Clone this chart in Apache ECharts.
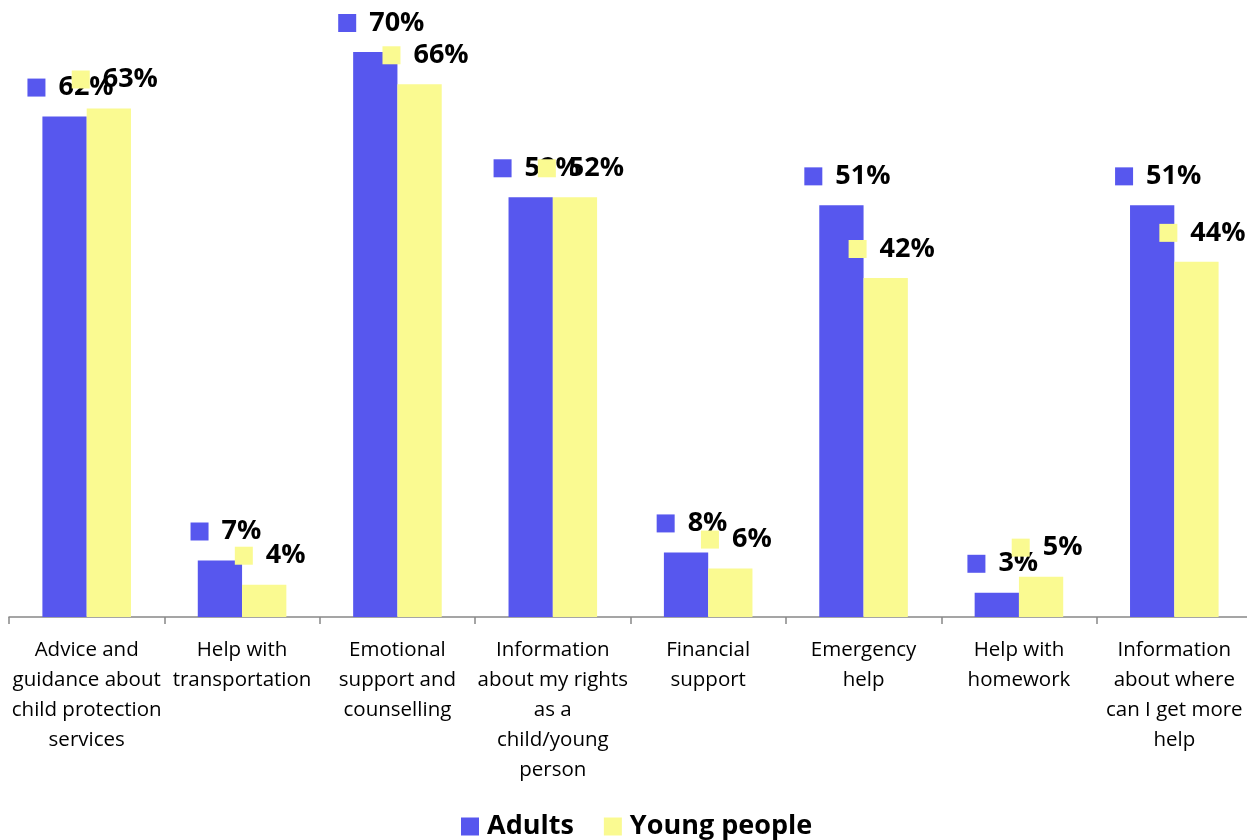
<!DOCTYPE html>
<html><head><meta charset="utf-8">
<script src="https://cdn.jsdelivr.net/npm/echarts@6/dist/echarts.min.js"></script>
<style>html,body{margin:0;padding:0;background:#fff;overflow:hidden}#c{width:1252px;height:840px}</style>
</head><body><div id="c"></div>
<script>
const categories = [
  "Advice and\nguidance about\nchild protection\nservices",
  "Help with\ntransportation",
  "Emotional\nsupport and\ncounselling",
  "Information\nabout my rights\nas a\nchild/young\nperson",
  "Financial\nsupport",
  "Emergency\nhelp",
  "Help with\nhomework",
  "Information\nabout where\ncan I get more\nhelp"
];
const adults = [62, 7, 70, 52, 8, 51, 3, 51];
const youngPeople = [63, 4, 66, 52, 6, 42, 5, 44];
const seriesNames = ["Adults", "Young people"];
const colors = ["#5757EE", "#FAFA91"];
const FONT = "'Open Sans', sans-serif";

function mkLabel(color) {
  return {
    show: true, position: 'top', distance: 14, offset: [6, 0],
    formatter: p => '{sq|}{gap|}{v|' + p.value + '%}',
    rich: {
      sq: { width: 18, height: 18, backgroundColor: color },
      gap: { width: 13 },
      v: { fontFamily: FONT, fontWeight: 'bold', fontSize: 27, color: '#000', lineHeight: 30 }
    }
  };
}

const chart = echarts.init(document.getElementById('c'));
chart.setOption({
  animation: false,
  backgroundColor: '#fff',
  grid: { left: 9, right: 0, top: 52, bottom: 223 },
  legend: {
    top: 813, left: 461, padding: 0,
    itemWidth: 18, itemHeight: 18, itemGap: 30,
    icon: 'rect',
    textStyle: { fontFamily: FONT, fontWeight: 'bold', fontSize: 27, color: '#000', padding: [0, 0, 0, 3] },
    data: seriesNames
  },
  xAxis: {
    type: 'category', data: categories,
    axisLine: { lineStyle: { color: '#888', width: 1.5 } },
    axisTick: { show: true, length: 7, lineStyle: { color: '#888', width: 1.5 } },
    axisLabel: { interval: 0, margin: 18, fontFamily: FONT, fontSize: 20.5, lineHeight: 30, color: '#000' }
  },
  yAxis: { type: 'value', min: 0, max: 70, show: false, splitLine: { show: false } },
  series: [
    { name: seriesNames[0], type: 'bar', data: adults, itemStyle: { color: colors[0] },
      barGap: '0%', barCategoryGap: '43%', label: mkLabel(colors[0]) },
    { name: seriesNames[1], type: 'bar', data: youngPeople, itemStyle: { color: colors[1] },
      barGap: '0%', barCategoryGap: '43%', label: mkLabel(colors[1]) }
  ]
});
</script></body></html>
